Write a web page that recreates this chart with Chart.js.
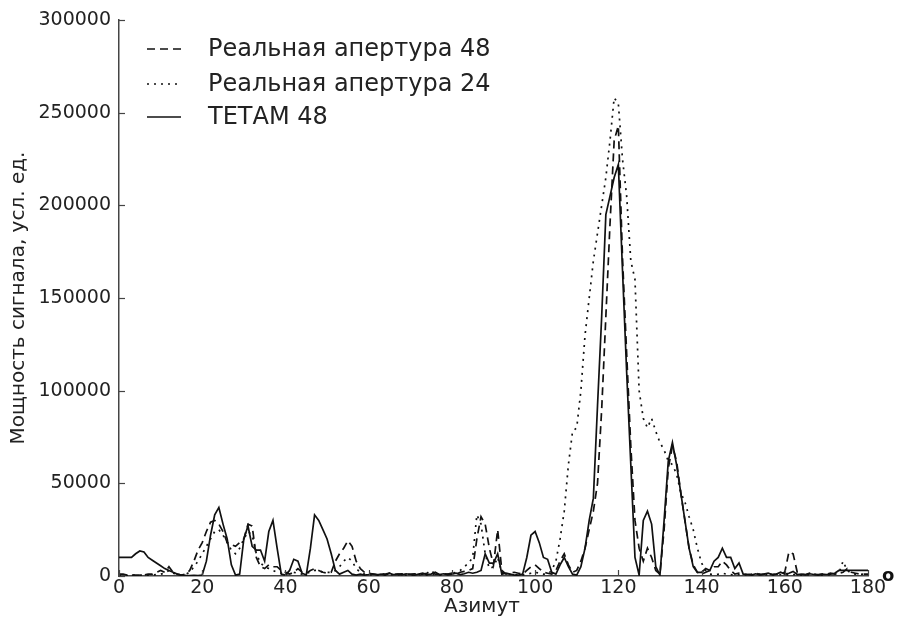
<!DOCTYPE html>
<html><head><meta charset="utf-8">
<script src="https://cdn.jsdelivr.net/npm/chart.js@4.4.1/dist/chart.umd.min.js"></script>
<style>html,body{margin:0;padding:0;background:#fff;}canvas{display:block}</style>
</head><body>
<canvas id="c" width="898" height="621"></canvas>
<script>
const azimuth = [0,1,2,3,4,5,6,7,8,9,10,11,12,13,14,15,16,17,18,19,20,21,22,23,24,25,26,27,28,29,30,31,32,33,34,35,36,37,38,39,40,41,42,43,44,45,46,47,48,49,50,51,52,53,54,55,56,57,58,59,60,61,62,63,64,65,66,67,68,69,70,71,72,73,74,75,76,77,78,79,80,81,82,83,84,85,86,87,88,89,90,91,92,93,94,95,96,97,98,99,100,101,102,103,104,105,106,107,108,109,110,111,112,113,114,115,116,117,118,119,120,121,122,123,124,125,126,127,128,129,130,131,132,133,134,135,136,137,138,139,140,141,142,143,144,145,146,147,148,149,150,151,152,153,154,155,156,157,158,159,160,161,162,163,164,165,166,167,168,169,170,171,172,173,174,175,176,177,178,179,180];

const realAperture48 = [
1000,1000,500,500,500,500,500,1000,1000,2000,
3000,2000,5000,2000,1000,500,1000,3000,8000,14000,
18000,24000,29000,30000,28000,24000,18000,17000,16000,18000,
20000,28000,27000,10000,5000,4000,6000,5000,5000,3000,
2000,1000,2000,4000,2000,1500,3000,4000,3000,2000,
1500,2000,8000,12000,15000,19000,16000,8000,4000,2000,
1500,1000,800,1200,1000,1500,800,1000,1200,800,
1000,1200,800,1000,1500,3000,1000,800,1200,1000,
1500,1000,2000,2500,3000,4000,20000,32000,28000,15000,
6000,25000,3000,1000,1500,2000,1500,1000,3000,5000,
6000,4000,2000,1500,1000,3000,8000,12000,6000,2000,
3000,8000,15000,25000,35000,50000,90000,140000,190000,235000,
243000,172000,120000,70000,30000,15000,8000,15000,10000,3000,
1000,25000,58000,70000,62000,45000,30000,15000,6000,2000,
1000,2000,3000,5000,5000,8000,6000,3000,1000,1500,
1000,800,1000,1500,800,1000,1200,800,1000,1500,
2000,13000,12000,2000,1000,800,1500,1000,800,1000,
1000,1500,1000,1500,2000,4000,2000,1500,1000,1000,
1000];

const realAperture24 = [
500,500,300,500,300,500,500,300,500,800,
1000,1500,3000,1500,1000,500,1000,2000,5000,8000,
12000,16000,20000,24000,25000,22000,18000,14000,12000,15000,
20000,24000,22000,12000,7000,5000,4000,3000,2000,1500,
1000,1500,2000,1500,1000,1500,2000,3000,3000,2000,
2000,2000,3000,5000,8000,10000,8000,4000,2000,1000,
500,800,500,600,500,800,500,600,800,500,
600,500,800,500,600,1000,800,500,800,1000,
1500,2000,3000,5000,7000,10000,33000,28000,12000,4000,
5000,10000,2000,1000,800,500,800,500,1000,1500,
2000,1500,1000,1000,3000,8000,20000,35000,60000,78000,
80000,100000,130000,150000,170000,185000,200000,215000,235000,258000,
255000,225000,205000,170000,160000,100000,85000,80000,85000,78000,
72000,68000,62000,60000,55000,45000,40000,32000,25000,15000,
7000,3000,1000,800,1000,1500,1000,800,500,800,
500,800,500,600,1000,500,800,600,500,800,
1000,500,800,600,500,800,500,1000,600,500,
800,500,1000,1500,8000,3000,1500,1000,800,1000,
1000];

const tetam48 = [
10000,10000,10000,10000,12000,13500,13000,10000,8500,7000,
5500,4000,3000,2000,1000,500,300,200,300,200,
500,8000,22000,33000,37000,28000,20000,6000,500,1000,
20000,27000,16000,14000,14000,8000,24000,30000,15000,1000,
500,3000,9000,8000,1500,500,15000,33000,30000,25000,
20000,12000,3000,1000,2000,3000,1000,500,1000,500,
800,1200,600,1000,500,1500,700,1000,600,1200,
800,500,1000,1500,700,1000,2000,800,1200,600,
1000,1500,800,1200,2000,1500,2000,3000,12000,7000,
7000,12000,1000,1500,1000,500,500,1000,10000,22000,
24000,18000,10000,9000,2000,1000,6000,10000,5000,1000,
500,5000,15000,30000,42000,92000,140000,195000,205000,215000,
222000,165000,110000,60000,10000,500,30000,35000,28000,5000,
500,30000,62000,72000,60000,45000,30000,15000,5000,2000,
2000,4000,3000,8000,10000,15000,10000,10000,4000,7000,
1000,800,500,1200,600,1000,1500,800,1000,2000,
1000,1500,2500,800,1000,600,1200,800,500,1000,
800,1000,1500,3000,3000,3000,3000,3000,3000,3000,
3000];

const seriesLabels = ['Реальная апертура 48', 'Реальная апертура 24', 'ТЕТАМ 48'];
const xTicks = [0,20,40,60,80,100,120,140,160,180];
const yTicks = [0,50000,100000,150000,200000,250000,300000];
const xTitle = 'Азимут';
const yTitle = 'Мощность сигнала, усл. ед.';

const FONT = "'DejaVu Sans', sans-serif";
const INK = '#222';
const LINE = '#111';

function pts(vals){ return azimuth.map((a,i)=>({x:a,y:vals[i]})); }

const dashes = [[8,5],[2,5],[]];

const customPlugin = {
  id: 'custom',
  afterDraw(chart){
    const ctx = chart.ctx;
    const xs = chart.scales.x, ys = chart.scales.y;
    const ca = chart.chartArea;
    ctx.save();
    // inward tick marks
    ctx.strokeStyle = '#444';
    ctx.lineWidth = 1.2;
    yTicks.forEach(v=>{
      const y = Math.round(ys.getPixelForValue(v))+0.5;
      ctx.beginPath(); ctx.moveTo(ca.left, y); ctx.lineTo(ca.left+6, y); ctx.stroke();
    });
    xTicks.forEach(v=>{
      const x = Math.round(xs.getPixelForValue(v))+0.5;
      ctx.beginPath(); ctx.moveTo(x, ca.bottom); ctx.lineTo(x, ca.bottom-6); ctx.stroke();
    });
    // legend
    const rows = [49, 84, 117];
    chart.data.datasets.forEach((ds,i)=>{
      const y = rows[i];
      ctx.strokeStyle = LINE;
      ctx.lineWidth = 1.6;
      ctx.setLineDash(ds.borderDash || []);
      ctx.beginPath(); ctx.moveTo(147, y); ctx.lineTo(181, y); ctx.stroke();
      ctx.setLineDash([]);
      ctx.fillStyle = INK;
      ctx.font = "24px " + FONT;
      ctx.textBaseline = 'middle';
      ctx.textAlign = 'left';
      ctx.fillText(ds.label, 208, y+1);
    });
    // x axis title
    ctx.font = "20px " + FONT;
    ctx.textAlign = 'center';
    ctx.textBaseline = 'middle';
    ctx.fillStyle = INK;
    ctx.fillText(xTitle, 482, 607);
    // degree sign
    ctx.font = "bold 18px " + FONT;
    ctx.textBaseline = 'middle';
    ctx.textAlign = 'left';
    ctx.fillStyle = '#111';
    ctx.fillText('o', 882, 576);
    ctx.restore();
  }
};

new Chart(document.getElementById('c'), {
  type: 'line',
  data: {
    datasets: [
      {label: seriesLabels[0], data: pts(realAperture48), borderColor: LINE, borderWidth: 1.7, borderDash: dashes[0], pointRadius: 0, tension: 0, fill: false},
      {label: seriesLabels[1], data: pts(realAperture24), borderColor: LINE, borderWidth: 1.7, borderDash: dashes[1], pointRadius: 0, tension: 0, fill: false},
      {label: seriesLabels[2], data: pts(tetam48), borderColor: LINE, borderWidth: 1.7, borderDash: dashes[2], pointRadius: 0, tension: 0, fill: false}
    ]
  },
  options: {
    responsive: false,
    animation: false,
    devicePixelRatio: 1,
    layout: {padding: {top: 20, right: 30, left: 0, bottom: 0}},
    plugins: {legend: {display: false}, tooltip: {enabled: false}},
    scales: {
      x: {
        type: 'linear', min: 0, max: 180,
        afterFit: s => { s.height = 45; },
        afterBuildTicks: s => { s.ticks = xTicks.map(v=>({value:v})); },
        ticks: {color: INK, font: {family: FONT, size: 19}, padding: 1, maxRotation: 0, callback: v => String(v)},
        grid: {display: false, drawTicks: false},
        border: {display: true, color: '#444', width: 1.5},
        title: {display: false}
      },
      y: {
        type: 'linear', min: 0, max: 300000,
        afterFit: s => { s.width = 119; },
        afterBuildTicks: s => { s.ticks = yTicks.map(v=>({value:v})); },
        ticks: {color: INK, font: {family: FONT, size: 19}, padding: 8, callback: v => String(v)},
        grid: {display: false, drawTicks: false},
        border: {display: true, color: '#444', width: 1.5},
        title: {display: true, text: yTitle, color: INK, font: {family: FONT, size: 20}, padding: {top: 7, bottom: 0}}
      }
    }
  },
  plugins: [customPlugin]
});
</script>
</body></html>
